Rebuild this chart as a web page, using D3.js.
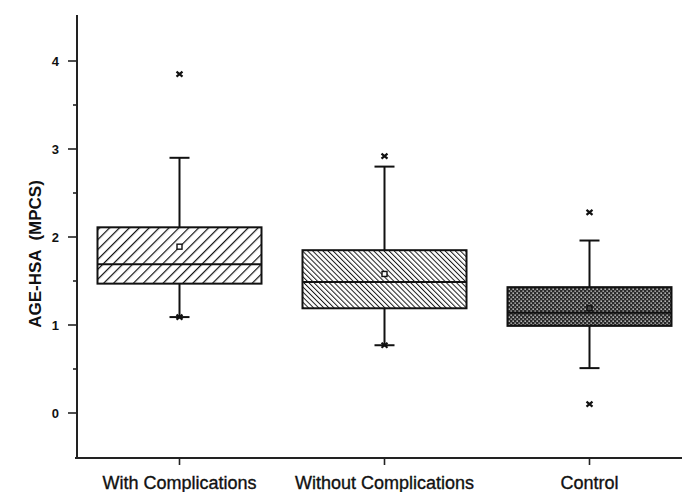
<!DOCTYPE html>
<html>
<head>
<meta charset="utf-8">
<script src="https://cdn.jsdelivr.net/npm/d3@7"></script>
<style>
  html, body { margin: 0; padding: 0; background: #fff; }
  svg { display: block; }
</style>
</head>
<body>
<svg id="chart" width="682" height="492"></svg>
<script>
// ---- data ----
const categories = ["With Complications", "Without Complications", "Control"];
const whiskerLow = [1.09, 0.77, 0.51];
const q1 = [1.47, 1.19, 0.99];
const medians = [1.69, 1.49, 1.14];
const q3 = [2.11, 1.85, 1.43];
const whiskerHigh = [2.90, 2.80, 1.96];
const means = [1.89, 1.58, 1.19];
const outliersHigh = [3.85, 2.92, 2.28];
const outliersLow = [1.09, 0.77, 0.10];
const yTicks = [0, 1, 2, 3, 4];
const yMinorTicks = [0.5, 1.5, 2.5, 3.5];
const patterns = ["hatchA", "hatchB", "dots"];

const svg = d3.select("#chart");
const defs = svg.append("defs");

// hatch "///"
const pA = defs.append("pattern").attr("id", "hatchA").attr("patternUnits", "userSpaceOnUse")
  .attr("width", 7).attr("height", 7).attr("patternTransform", "rotate(45)");
pA.append("rect").attr("width", 7).attr("height", 7).attr("fill", "#fff");
pA.append("line").attr("x1", 0).attr("y1", 0).attr("x2", 0).attr("y2", 7)
  .attr("stroke", "#111").attr("stroke-width", 2.4);

// hatch "\\\"
const pB = defs.append("pattern").attr("id", "hatchB").attr("patternUnits", "userSpaceOnUse")
  .attr("width", 3.6).attr("height", 3.6).attr("patternTransform", "rotate(-45)");
pB.append("rect").attr("width", 3.6).attr("height", 3.6).attr("fill", "#fff");
pB.append("line").attr("x1", 0).attr("y1", 0).attr("x2", 0).attr("y2", 3.6)
  .attr("stroke", "#1a1a1a").attr("stroke-width", 2.0);

// dotted crosshatch
const pC = defs.append("pattern").attr("id", "dots").attr("patternUnits", "userSpaceOnUse")
  .attr("width", 4).attr("height", 4);
pC.append("rect").attr("width", 4).attr("height", 4).attr("fill", "#2a2a2a");
pC.append("rect").attr("x", 0.5).attr("y", 0.5).attr("width", 1.3).attr("height", 1.3).attr("fill", "#fff");
pC.append("rect").attr("x", 2.5).attr("y", 2.5).attr("width", 1.3).attr("height", 1.3).attr("fill", "#ddd");

// ---- scales ----
const x = d3.scaleBand().domain(categories).range([77, 692]).paddingInner(0.2).paddingOuter(0.1);
const y = d3.scaleLinear().domain([-0.5, 4.5]).range([457, 17]);

// ---- axes ----
const axisColor = "#222";
const font = "Liberation Sans, Arial, sans-serif";
// y axis
const yAxisG = svg.append("g").attr("transform", "translate(77,0)");
yAxisG.append("line").attr("x1", 0).attr("x2", 0).attr("y1", 15).attr("y2", 458)
  .attr("stroke", axisColor).attr("stroke-width", 2);
yAxisG.selectAll(".maj").data(yTicks).join("line")
  .attr("x1", -9).attr("x2", 0).attr("y1", d => y(d)).attr("y2", d => y(d))
  .attr("stroke", axisColor).attr("stroke-width", 1.6);
yAxisG.selectAll(".min").data(yMinorTicks).join("line")
  .attr("x1", -4).attr("x2", 0).attr("y1", d => y(d)).attr("y2", d => y(d))
  .attr("stroke", axisColor).attr("stroke-width", 1.6);
yAxisG.selectAll("text").data(yTicks).join("text")
  .attr("x", -18).attr("y", d => y(d)).attr("dy", "0.36em")
  .attr("text-anchor", "end")
  .attr("font-family", font)
  .attr("font-size", 13).attr("font-weight", "bold").attr("fill", "#111")
  .text(d => d);

// x axis
const xAxisG = svg.append("g").attr("transform", "translate(0,458)");
xAxisG.append("line").attr("x1", 75).attr("x2", 682).attr("y1", 0).attr("y2", 0)
  .attr("stroke", axisColor).attr("stroke-width", 2);
xAxisG.selectAll("line.t").data(categories).join("line").attr("class", "t")
  .attr("x1", d => x(d) + x.bandwidth() / 2).attr("x2", d => x(d) + x.bandwidth() / 2)
  .attr("y1", 0).attr("y2", 7).attr("stroke", axisColor).attr("stroke-width", 1.6);
xAxisG.selectAll("text").data(categories).join("text")
  .attr("x", d => x(d) + x.bandwidth() / 2).attr("y", 31)
  .attr("text-anchor", "middle")
  .attr("font-family", font)
  .attr("font-size", 18).attr("fill", "#111")
  .attr("stroke", "#111").attr("stroke-width", 0.35)
  .text(d => d);

// y title
svg.append("text")
  .attr("transform", "translate(41,254) rotate(-90)")
  .attr("text-anchor", "middle")
  .attr("font-family", font)
  .attr("font-size", 17).attr("font-weight", "bold").attr("fill", "#111")
  .attr("xml:space", "preserve")
  .text("AGE-HSA  (MPCS)");

// ---- boxes ----
const capW = 20;
const g = svg.append("g");
categories.forEach((c, i) => {
  const cx = x(c) + x.bandwidth() / 2;
  const gg = g.append("g");
  // whiskers
  gg.append("line").attr("x1", cx).attr("x2", cx).attr("y1", y(q3[i])).attr("y2", y(whiskerHigh[i]))
    .attr("stroke", "#111").attr("stroke-width", 2);
  gg.append("line").attr("x1", cx).attr("x2", cx).attr("y1", y(q1[i])).attr("y2", y(whiskerLow[i]))
    .attr("stroke", "#111").attr("stroke-width", 2);
  gg.append("line").attr("x1", cx - capW / 2).attr("x2", cx + capW / 2)
    .attr("y1", y(whiskerHigh[i])).attr("y2", y(whiskerHigh[i])).attr("stroke", "#111").attr("stroke-width", 2);
  gg.append("line").attr("x1", cx - capW / 2).attr("x2", cx + capW / 2)
    .attr("y1", y(whiskerLow[i])).attr("y2", y(whiskerLow[i])).attr("stroke", "#111").attr("stroke-width", 2);
  // box
  gg.append("rect").attr("x", x(c)).attr("width", x.bandwidth())
    .attr("y", y(q3[i])).attr("height", y(q1[i]) - y(q3[i]))
    .attr("fill", `url(#${patterns[i]})`).attr("stroke", "#111").attr("stroke-width", 2);
  // median
  gg.append("line").attr("x1", x(c)).attr("x2", x(c) + x.bandwidth())
    .attr("y1", y(medians[i])).attr("y2", y(medians[i])).attr("stroke", "#111").attr("stroke-width", 2);
  // mean
  gg.append("rect").attr("x", cx - 2.5).attr("y", y(means[i]) - 2.5).attr("width", 5).attr("height", 5)
    .attr("fill", i === 2 ? "#444" : "#fff").attr("stroke", "#111").attr("stroke-width", 1.4);
  // outliers (x markers)
  [outliersHigh[i], outliersLow[i]].forEach(v => {
    const py = y(v);
    gg.append("path")
      .attr("d", `M${cx - 3},${py - 2.5}L${cx + 3},${py + 2.5}M${cx + 3},${py - 2.5}L${cx - 3},${py + 2.5}`)
      .attr("stroke", "#111").attr("stroke-width", 2.2);
  });
});
</script>
</body>
</html>
